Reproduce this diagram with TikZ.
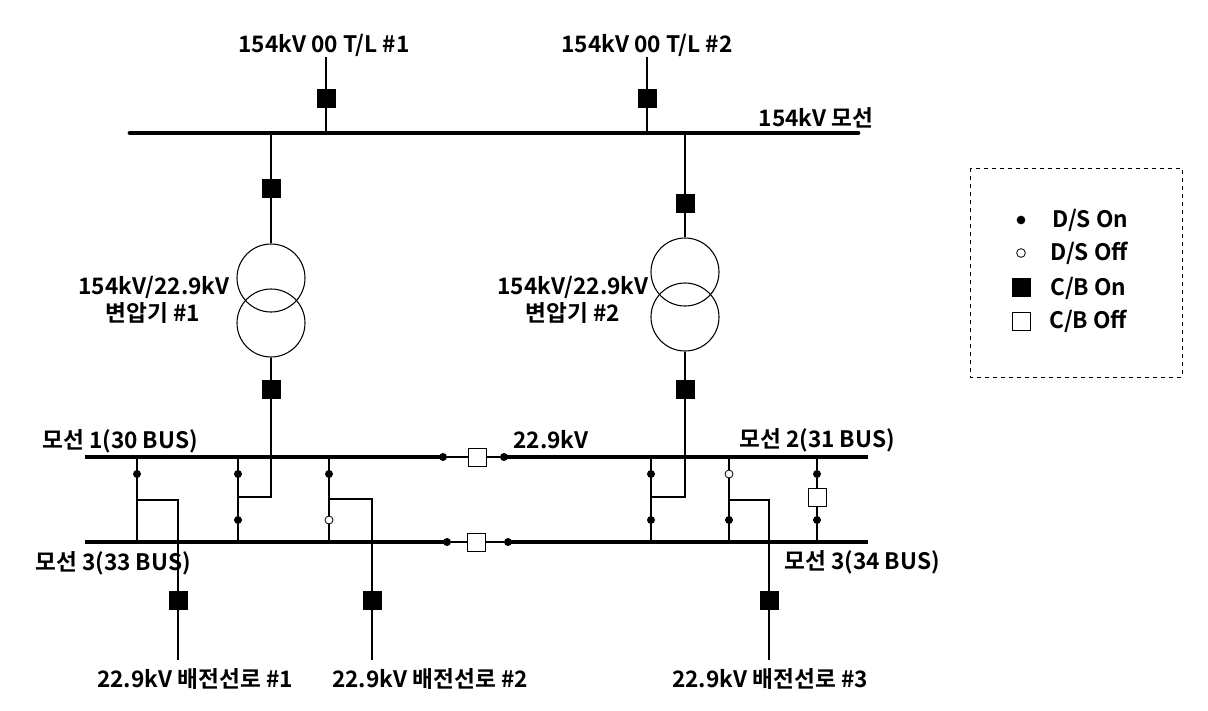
\documentclass[tikz,border=0pt]{standalone}
\usepackage{fontspec}
\setmainfont{Noto Sans CJK KR}[BoldFont=* Bold]
\begin{document}
\begin{tikzpicture}[x=0.75pt,y=-0.75pt,
  wire/.style={line width=0.8pt},
  busline/.style={line width=3pt},
  topbus/.style={line width=3.6pt,line cap=round},
  cbon/.style={rectangle,fill=black,draw=black,line width=0.6pt,minimum size=13.5pt,inner sep=0pt},
  cboff/.style={rectangle,fill=white,draw=black,line width=0.6pt,minimum size=13.5pt,inner sep=0pt},
  dson/.style={circle,fill=black,minimum size=6pt,inner sep=0pt},
  dsoff/.style={circle,fill=white,draw=black,line width=0.6pt,minimum size=6pt,inner sep=0pt},
  trf/.style={circle,draw=black,line width=0.8pt,minimum size=51pt,inner sep=0pt},
  lbl/.style={font=\bfseries\fontsize{17pt}{20pt}\selectfont,inner sep=0pt},
  legbox/.style={draw=black,dashed,line width=0.7pt}
]
\useasboundingbox (0,0) rectangle (1208,711);

% ---------- top 154 kV bus ----------
\coordinate (tb1) at (130,133);
\coordinate (tb2) at (858,133);
\draw[topbus] (tb1) -- (tb2);
\node[lbl] (buslab) at (816,118) {154kV 모선};

% T/L #1 and #2
\node[lbl] (tl1lab) at (324,45) {154kV 00 T/L \#1};
\node[lbl] (tl2lab) at (647,45) {154kV 00 T/L \#2};
\coordinate (tl1top) at (326,57);
\coordinate (tl1bus) at (326,133);
\coordinate (tl2top) at (647,57);
\coordinate (tl2bus) at (647,133);
\node[cbon] (cbtl1) at (326,98) {};
\node[cbon] (cbtl2) at (647,98) {};
\draw[wire] (tl1top) -- (cbtl1) -- (tl1bus);
\draw[wire] (tl2top) -- (cbtl2) -- (tl2bus);

% ---------- transformer #1 ----------
\coordinate (t1bus) at (271,133);
\node[cbon] (cbt1h) at (271,188) {};
\node[trf] (tr1a) at (271,278) {};
\node[trf] (tr1b) at (271,323) {};
\node[cbon] (cbt1l) at (271,389) {};
\coordinate (t1c) at (271,497);
\coordinate (t1e) at (238,497);
\draw[wire] (t1bus) -- (cbt1h) -- (tr1a.north);
\draw[wire] (tr1b.south) -- (cbt1l) -- (t1c) -- (t1e);
\node[lbl] (t1lab1) at (154,287) {154kV/22.9kV};
\node[lbl] (t1lab2) at (153,313) {변압기 \#1};

% ---------- transformer #2 ----------
\coordinate (t2bus) at (685,133);
\node[cbon] (cbt2h) at (685,203) {};
\node[trf] (tr2a) at (685,272) {};
\node[trf] (tr2b) at (685,317) {};
\node[cbon] (cbt2l) at (685,389) {};
\coordinate (t2c) at (685,497);
\coordinate (t2e) at (651,497);
\draw[wire] (t2bus) -- (cbt2h) -- (tr2a.north);
\draw[wire] (tr2b.south) -- (cbt2l) -- (t2c) -- (t2e);
\node[lbl] (t2lab1) at (573,287) {154kV/22.9kV};
\node[lbl] (t2lab2) at (573,313) {변압기 \#2};

% ---------- 22.9 kV buses ----------
\coordinate (b1l) at (85,457);
\coordinate (b1r) at (868,457);
\node[dson] (b1dA) at (443,457) {};
\node[cboff] (b1cb) at (477,457) {};
\node[dson] (b1dB) at (504,457) {};
\draw[busline] (b1l) -- (b1dA.center);
\draw[busline] (b1dB.center) -- (b1r);
\draw[wire] (b1dA) -- (b1cb) -- (b1dB);

\coordinate (b3l) at (85,542);
\coordinate (b3r) at (868,542);
\node[dson] (b3dA) at (447,542) {};
\node[cboff] (b3cb) at (476,542) {};
\node[dson] (b3dB) at (508,542) {};
\draw[busline] (b3l) -- (b3dA.center);
\draw[busline] (b3dB.center) -- (b3r);
\draw[wire] (b3dA) -- (b3cb) -- (b3dB);

\node[lbl] (b1lab) at (120,441) {모선 1(30 BUS)};
\node[lbl] (b3lab) at (113,563) {모선 3(33 BUS)};
\node[lbl] (kvlab) at (551,440) {22.9kV};
\node[lbl] (b2lab) at (817,440) {모선 2(31 BUS)};
\node[lbl] (b4lab) at (862,562) {모선 3(34 BUS)};

% ---------- bay at x=137 (feeder #1) ----------
\coordinate (v1t) at (137,457);
\coordinate (v1b) at (137,542);
\coordinate (v1m) at (137,500);
\coordinate (f1c) at (178,500);
\coordinate (f1e) at (178,660);
\draw[wire] (v1t) -- (v1b);
\draw[wire] (v1m) -- (f1c) -- (f1e);
\node[dson] (v1d) at (137,474) {};
\node[cbon] (cbf1) at (178,600) {};
\node[lbl] (f1lab) at (195,679) {22.9kV 배전선로 \#1};

% ---------- bay at x=238 (transformer #1) ----------
\coordinate (v2t) at (238,457);
\coordinate (v2b) at (238,542);
\draw[wire] (v2t) -- (v2b);
\node[dson] (v2d1) at (238,474) {};
\node[dson] (v2d2) at (238,520) {};

% ---------- bay at x=329 (feeder #2) ----------
\coordinate (v3t) at (329,457);
\coordinate (v3b) at (329,542);
\coordinate (v3m) at (329,499);
\coordinate (f2c) at (372,499);
\coordinate (f2e) at (372,660);
\draw[wire] (v3t) -- (v3b);
\draw[wire] (v3m) -- (f2c) -- (f2e);
\node[dson] (v3d1) at (329,474) {};
\node[dsoff] (v3d2) at (329,520) {};
\node[cbon] (cbf2) at (372,600) {};
\node[lbl] (f2lab) at (430,679) {22.9kV 배전선로 \#2};

% ---------- bay at x=651 (transformer #2) ----------
\coordinate (v4t) at (651,457);
\coordinate (v4b) at (651,542);
\draw[wire] (v4t) -- (v4b);
\node[dson] (v4d1) at (651,474) {};
\node[dson] (v4d2) at (651,520) {};

% ---------- bay at x=729 (feeder #3) ----------
\coordinate (v5t) at (729,457);
\coordinate (v5b) at (729,542);
\coordinate (v5m) at (729,500);
\coordinate (f3c) at (769,500);
\coordinate (f3e) at (769,660);
\draw[wire] (v5t) -- (v5b);
\draw[wire] (v5m) -- (f3c) -- (f3e);
\node[dsoff] (v5d1) at (729,474) {};
\node[dson] (v5d2) at (729,520) {};
\node[cbon] (cbf3) at (769,600) {};
\node[lbl] (f3lab) at (770,679) {22.9kV 배전선로 \#3};

% ---------- bus tie at x=817 ----------
\coordinate (v6t) at (817,457);
\coordinate (v6b) at (817,542);
\node[dson] (v6d1) at (817,474) {};
\node[cboff] (v6cb) at (817,497) {};
\node[dson] (v6d2) at (817,520) {};
\draw[wire] (v6t) -- (v6d1) -- (v6cb) -- (v6d2) -- (v6b);

% ---------- legend ----------
\coordinate (lg1) at (970,168);
\coordinate (lg2) at (1182,377);
\draw[legbox] (lg1) rectangle (lg2);
\node[dson,minimum size=6.5pt] (lgd1) at (1021,220) {};
\node[lbl,anchor=west] (lgt1) at (1052,220) {D/S On};
\node[dsoff,minimum size=6.5pt] (lgd2) at (1021,253) {};
\node[lbl,anchor=west] (lgt2) at (1050,253) {D/S Off};
\node[cbon] (lgd3) at (1021,287) {};
\node[lbl,anchor=west] (lgt3) at (1050,288) {C/B On};
\node[cboff] (lgd4) at (1021,321) {};
\node[lbl,anchor=west] (lgt4) at (1049,321) {C/B Off};
\end{tikzpicture}
\end{document}
